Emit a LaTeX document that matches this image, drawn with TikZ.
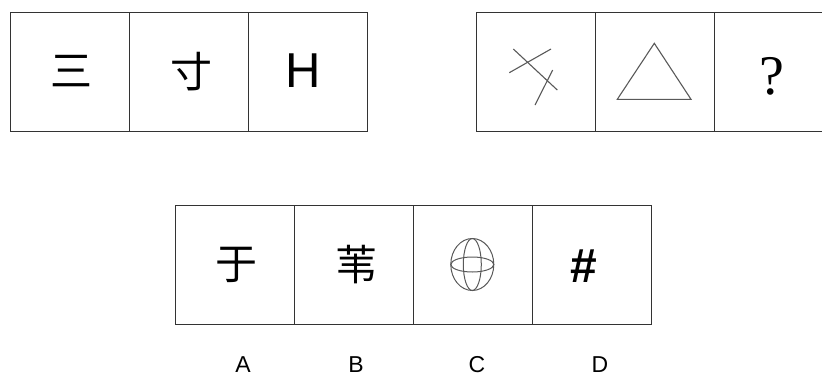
\documentclass[tikz,border=0pt]{standalone}
\usepackage{fontspec}
\setmainfont{Liberation Serif}
\setsansfont{Liberation Sans}
\newfontfamily\cjk{Noto Sans CJK SC}
\begin{document}
\begin{tikzpicture}[x=1pt,y=-1pt,
  cell/.style={draw=black!80,line width=0.9pt,minimum width=119pt,minimum height=119pt,inner sep=0pt,outer sep=0pt},
  txt/.style={inner sep=0pt,outer sep=0pt},
  han/.style={txt,font=\cjk\fontsize{42}{42}\selectfont},
  lab/.style={txt,font=\sffamily\fontsize{23}{23}\selectfont},
  fig/.style={draw=black!65,line width=1.1pt}]
\useasboundingbox (0,0) rectangle (822,378);
% top left group
\node[cell] (t1) at (69.5,71.5) {};
\node[cell] (t2) at (188.5,71.5) {};
\node[cell] (t3) at (307.5,71.5) {};
\node[han] (c1) at (71,71) {三};
\node[han] (c2) at (191,72) {寸};
\node[txt,font=\sffamily\fontsize{49}{49}\selectfont] (c3) at (303,71) {H};
% top right group
\node[cell] (r1) at (535.5,71.5) {};
\node[cell] (r2) at (654.5,71.5) {};
\node[cell] (r3) at (773.5,71.5) {};
\coordinate (l1a) at (513.3,49); \coordinate (l1b) at (557.3,90);
\coordinate (l2a) at (509.3,72.7); \coordinate (l2b) at (551,49);
\coordinate (l3a) at (552.7,70); \coordinate (l3b) at (535,105);
\draw[fig] (l1a) -- (l1b);
\draw[fig] (l2a) -- (l2b);
\draw[fig] (l3a) -- (l3b);
\coordinate (ta) at (654.3,43.3); \coordinate (tb) at (617.3,99.3); \coordinate (tc) at (691,99.3);
\draw[fig,line join=miter] (ta) -- (tb) -- (tc) -- cycle;
\node[txt,font=\fontsize{56}{56}\selectfont] (q) at (772,76) {?};
% options
\node[cell] (o1) at (234.5,265) {};
\node[cell] (o2) at (353.5,265) {};
\node[cell] (o3) at (472.5,265) {};
\node[cell] (o4) at (591.5,265) {};
\node[han] (a1) at (236.5,264.5) {于};
\node[han] (a2) at (356,264.5) {苇};
\coordinate (g) at (472.3,264.5);
\draw[fig,line width=1pt] (g) ellipse [x radius=21.5, y radius=26];
\draw[fig,line width=1pt] (g) ellipse [x radius=21.5, y radius=7.5];
\draw[fig,line width=1pt] (g) ellipse [x radius=9, y radius=26];
\node[txt,font=\sffamily\bfseries\fontsize{48}{48}\selectfont] (a4) at (583.5,266) {\#};
\node[lab] (A) at (243,365) {A};
\node[lab] (B) at (356,365) {B};
\node[lab] (C) at (477,365) {C};
\node[lab] (D) at (600,365) {D};
\end{tikzpicture}
\end{document}
